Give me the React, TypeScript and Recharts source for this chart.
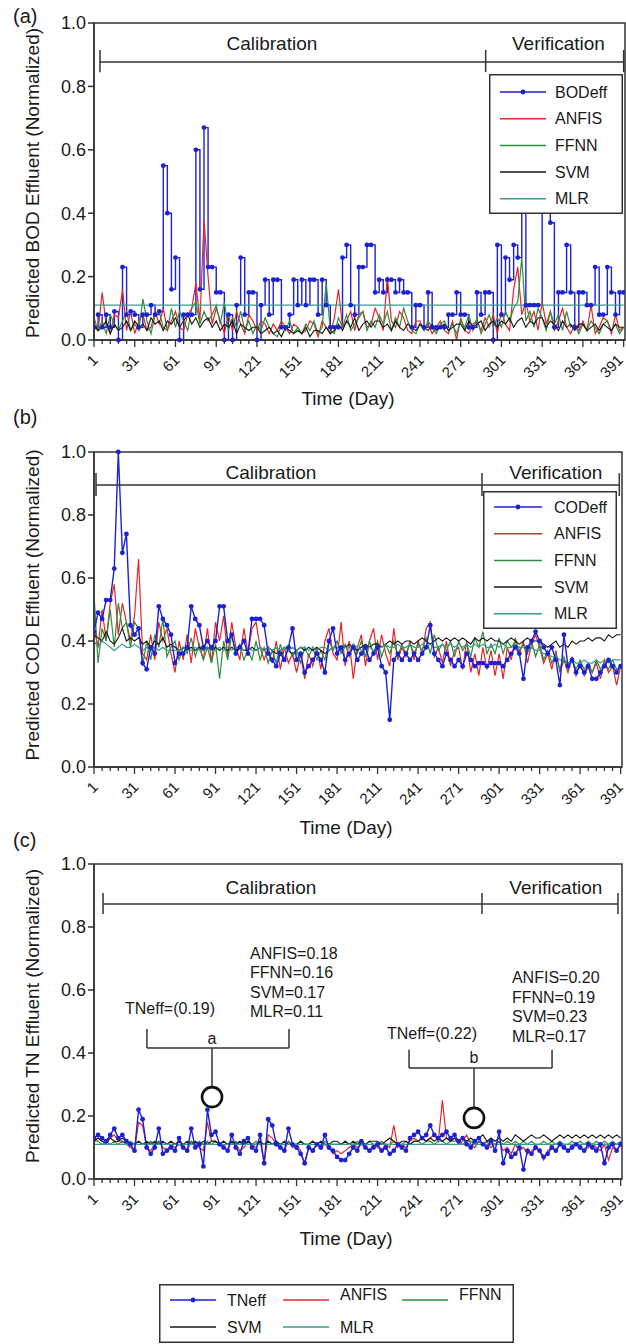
import React from "react";
import { LineChart, Line, XAxis, YAxis, ReferenceArea, ReferenceLine, ReferenceDot, Legend } from "recharts";

const FONT = '"Liberation Sans", Arial, Helvetica, sans-serif';

// one reading every 3 days: day 1, 4, 7 ... 391 (values are x100)
const days = Array.from({ length: 131 }, (_, i) => 1 + 3 * i);
const majorTicks = [1, 31, 61, 91, 121, 151, 181, 211, 241, 271, 301, 331, 361, 391];
const minorTicks = Array.from({ length: 66 }, (_, i) => 1 + 6 * i);
const yTicks = [0, 0.2, 0.4, 0.6, 0.8, 1.0];

// (a) BOD
const bodEff = [
  4, 8, 4, 8, 4, 9, 0, 23, 8, 9,
  8, 4, 8, 8, 11, 8, 9, 55, 40, 16,
  26, 0, 8, 8, 8, 60, 16, 67, 23, 23,
  15, 15, 0, 8, 0, 11, 26, 8, 15, 15,
  0, 11, 19, 8, 19, 19, 4, 4, 8, 19,
  11, 19, 11, 19, 19, 8, 19, 11, 4, 4,
  4, 26, 30, 11, 8, 23, 23, 30, 30, 15,
  19, 15, 19, 19, 15, 19, 15, 15, 4, 11,
  11, 4, 15, 4, 4, 4, 4, 8, 8, 15,
  8, 8, 4, 4, 15, 8, 15, 15, 0, 30,
  8, 26, 19, 30, 26, 45, 11, 11, 11, 11,
  45, 45, 37, 4, 15, 15, 30, 15, 4, 15,
  15, 11, 11, 23, 8, 8, 23, 15, 8, 15,
  15,
];
const anfisA = [
  4, 3, 15, 5, 2, 8, 7, 16, 3, 9,
  2, 6, 8, 3, 4, 9, 5, 10, 3, 6,
  9, 4, 3, 8, 10, 18, 6, 38, 20, 5,
  10, 6, 2, 8, 3, 9, 5, 2, 8, 6,
  3, 6, 5, 2, 5, 3, 6, 4, 2, 5,
  4, 2, 3, 6, 5, 1, 6, 4, 2, 7,
  16, 4, 6, 9, 3, 8, 9, 4, 5, 10,
  7, 3, 20, 6, 4, 9, 7, 3, 2, 6,
  6, 3, 5, 2, 4, 6, 3, 2, 6, 0,
  7, 3, 2, 5, 6, 3, 7, 4, 8, 2,
  9, 5, 3, 16, 23, 8, 12, 6, 9, 3,
  12, 5, 9, 3, 6, 10, 4, 2, 5, 3,
  6, 3, 11, 2, 4, 7, 6, 2, 8, 3,
  4,
];
const ffnnA = [
  7, 3, 6, 2, 8, 5, 3, 6, 9, 3,
  5, 3, 13, 6, 2, 8, 9, 4, 3, 10,
  4, 9, 6, 3, 10, 12, 5, 9, 6, 8,
  11, 5, 12, 3, 7, 4, 9, 3, 6, 2,
  5, 3, 7, 4, 2, 1, 5, 3, 6, 2,
  4, 2, 5, 3, 6, 2, 4, 18, 3, 2,
  7, 4, 8, 3, 5, 7, 9, 3, 6, 4,
  8, 5, 9, 3, 7, 4, 10, 6, 3, 2,
  5, 3, 6, 4, 2, 5, 6, 3, 5, 2,
  6, 4, 8, 3, 7, 2, 5, 8, 4, 7,
  4, 9, 6, 10, 12, 26, 6, 9, 4, 10,
  7, 3, 9, 5, 8, 3, 9, 4, 5, 2,
  5, 3, 6, 4, 2, 5, 6, 3, 5, 2,
  4,
];
const svmA = [
  5, 3, 4, 6, 2, 5, 3, 4, 6, 3,
  6, 4, 5, 3, 7, 5, 6, 3, 6, 5,
  7, 4, 6, 8, 5, 7, 4, 6, 7, 4,
  6, 3, 5, 4, 6, 2, 5, 4, 3, 4,
  4, 2, 3, 4, 2, 3, 1, 4, 3, 2,
  3, 2, 4, 1, 3, 3, 2, 4, 2, 3,
  5, 3, 6, 4, 7, 3, 5, 6, 4, 6,
  6, 4, 5, 3, 6, 4, 3, 5, 4, 3,
  5, 4, 3, 5, 3, 4, 5, 3, 4, 5,
  5, 3, 6, 4, 5, 6, 3, 5, 6, 4,
  6, 5, 7, 4, 6, 7, 4, 6, 5, 7,
  7, 4, 6, 5, 3, 6, 4, 5, 3, 5,
  5, 3, 4, 5, 3, 5, 4, 3, 5, 4,
  4,
];
const mlrA = [
  11, 11, 11, 11, 11, 11, 11, 11, 11, 11,
  11, 11, 11, 11, 11, 11, 11, 11, 11, 11,
  11, 11, 11, 11, 11, 11, 11, 11, 11, 11,
  11, 11, 11, 11, 11, 11, 11, 11, 11, 11,
  11, 11, 11, 11, 11, 11, 11, 11, 11, 11,
  11, 11, 11, 11, 11, 11, 11, 11, 11, 11,
  11, 11, 11, 11, 11, 11, 11, 11, 11, 11,
  11, 11, 11, 11, 11, 11, 11, 11, 11, 11,
  11, 11, 11, 11, 11, 11, 11, 11, 11, 11,
  11, 11, 11, 11, 11, 11, 11, 11, 11, 11,
  11, 11, 11, 11, 11, 11, 11, 11, 11, 11,
  11, 11, 11, 11, 11, 11, 11, 11, 11, 11,
  11, 11, 11, 11, 11, 11, 11, 11, 11, 11,
  11,
];

// (b) COD
const codEff = [
  43, 49, 47, 53, 53, 63, 100, 68, 74, 45,
  42, 44, 33, 31, 38, 36, 51, 47, 45, 42,
  33, 36, 36, 38, 51, 47, 45, 38, 40, 38,
  40, 51, 51, 40, 42, 36, 38, 40, 36, 47,
  47, 47, 45, 36, 34, 32, 36, 34, 38, 44,
  34, 36, 30, 32, 34, 36, 34, 30, 40, 44,
  36, 38, 34, 36, 38, 34, 36, 38, 34, 36,
  38, 32, 30, 15, 34, 36, 34, 36, 34, 36,
  34, 36, 38, 45, 36, 34, 32, 36, 34, 32,
  34, 32, 36, 34, 32, 33, 33, 32, 33, 33,
  33, 32, 34, 36, 38, 36, 28, 38, 40, 43,
  40, 38, 36, 38, 34, 26, 42, 32, 34, 30,
  32, 30, 32, 28, 28, 30, 32, 34, 32, 30,
  32,
];
const anfisB = [
  44, 38, 50, 40, 52, 58, 42, 52, 46, 40,
  48, 66, 36, 34, 42, 34, 46, 40, 44, 36,
  30, 40, 34, 42, 33, 44, 38, 34, 44, 33,
  46, 40, 48, 35, 46, 38, 34, 44, 36, 44,
  46, 38, 34, 38, 33, 40, 31, 38, 33, 36,
  30, 36, 28, 36, 32, 38, 31, 40, 44, 36,
  34, 46, 32, 40, 28, 38, 42, 32, 40, 44,
  34, 42, 36, 32, 44, 34, 38, 35, 40, 34,
  40, 36, 44, 46, 35, 38, 33, 40, 32, 37,
  38, 31, 40, 30, 36, 29, 38, 31, 37, 29,
  36, 28, 38, 34, 41, 36, 40, 33, 39, 42,
  38, 33, 36, 31, 37, 30, 34, 30, 35, 29,
  33, 29, 32, 30, 33, 28, 34, 30, 32, 26,
  32,
];
const ffnnB = [
  55, 33, 44, 40, 50, 38, 52, 44, 46, 38,
  46, 44, 32, 40, 34, 42, 38, 47, 35, 38,
  40, 34, 38, 36, 41, 35, 39, 34, 38, 33,
  39, 28, 40, 34, 42, 36, 39, 34, 37, 34,
  40, 34, 38, 33, 37, 33, 39, 34, 38, 35,
  37, 33, 38, 35, 38, 34, 37, 34, 40, 37,
  40, 36, 39, 35, 39, 36, 40, 35, 40, 36,
  40, 35, 39, 36, 40, 35, 39, 36, 39, 36,
  39, 37, 41, 36, 42, 37, 39, 37, 40, 35,
  40, 37, 39, 35, 41, 38, 43, 36, 39, 36,
  41, 36, 40, 38, 40, 37, 39, 36, 40, 35,
  39, 34, 37, 33, 36, 31, 35, 31, 34, 31,
  34, 31, 33, 30, 34, 31, 33, 31, 34, 31,
  32,
];
const svmB = [
  42, 41, 40, 43, 40, 39, 41, 44, 40, 41,
  40, 41, 39, 40, 38, 40, 39, 41, 38, 39,
  38, 37, 38, 37, 38, 37, 38, 37, 38, 37,
  38, 37, 38, 37, 38, 37, 38, 37, 37, 38,
  37, 38, 37, 38, 37, 36, 37, 38, 37, 36,
  37, 38, 37, 38, 37, 38, 37, 36, 37, 38,
  38, 37, 38, 39, 38, 37, 38, 39, 38, 39,
  39, 38, 39, 40, 39, 40, 39, 40, 40, 39,
  40, 41, 40, 39, 40, 41, 40, 41, 40, 41,
  40, 41, 40, 39, 41, 40, 41, 40, 41, 40,
  40, 39, 40, 41, 40, 39, 40, 41, 40, 40,
  40, 39, 38, 39, 40, 38, 39, 38, 40, 39,
  40, 40, 41, 40, 41, 41, 40, 42, 41, 42,
  42,
];
const mlrB = [
  40, 38, 40, 39, 38, 37, 38, 39, 38, 38,
  39, 38, 37, 38, 37, 38, 37, 38, 37, 37,
  37, 37, 38, 37, 37, 38, 37, 37, 38, 37,
  37, 38, 37, 38, 37, 38, 38, 37, 38, 37,
  37, 38, 37, 38, 37, 38, 37, 38, 37, 38,
  37, 38, 38, 37, 38, 37, 38, 38, 37, 38,
  38, 37, 38, 38, 39, 38, 37, 38, 38, 37,
  38, 38, 39, 38, 38, 39, 38, 38, 39, 38,
  38, 39, 38, 39, 38, 38, 39, 38, 39, 38,
  39, 38, 39, 38, 39, 38, 39, 38, 38, 39,
  38, 39, 38, 38, 39, 38, 38, 37, 38, 37,
  37, 36, 36, 35, 35, 34, 34, 33, 34, 33,
  33, 34, 33, 33, 34, 33, 34, 33, 34, 34,
  34,
];

// (c) TN
const tnEff = [
  13, 14, 13, 12, 14, 16, 13, 14, 12, 11,
  9, 22, 19, 10, 8, 10, 16, 8, 9, 10,
  9, 13, 10, 9, 16, 10, 11, 4, 22, 14,
  15, 11, 10, 9, 14, 10, 8, 12, 13, 10,
  9, 14, 5, 19, 17, 11, 10, 9, 16, 11,
  10, 8, 5, 10, 9, 11, 10, 14, 10, 9,
  7, 6, 6, 8, 10, 9, 12, 10, 9, 10,
  11, 9, 10, 8, 9, 11, 10, 9, 13, 14,
  15, 13, 14, 17, 14, 13, 14, 15, 13, 14,
  12, 13, 11, 10, 12, 13, 11, 10, 12, 9,
  15, 5, 9, 7, 8, 10, 3, 9, 8, 10,
  9, 7, 8, 10, 9, 11, 10, 9, 10, 11,
  10, 9, 11, 10, 9, 11, 5, 10, 11, 9,
  11,
];
const anfisC = [
  12, 13, 12, 11, 13, 14, 12, 12, 11, 10,
  9, 18, 17, 10, 9, 11, 12, 10, 9, 11,
  10, 11, 10, 9, 12, 11, 10, 9, 18, 12,
  12, 11, 10, 9, 12, 11, 9, 10, 12, 11,
  10, 12, 5, 14, 13, 11, 10, 9, 12, 10,
  11, 9, 5, 10, 9, 11, 10, 11, 10, 8,
  9, 8, 9, 10, 11, 10, 11, 10, 9, 11,
  10, 9, 11, 10, 17, 10, 11, 10, 12, 13,
  12, 13, 12, 13, 14, 12, 25, 13, 12, 13,
  11, 12, 14, 11, 10, 12, 11, 12, 10, 11,
  12, 9, 10, 8, 11, 9, 10, 8, 9, 10,
  9, 6, 9, 10, 9, 11, 10, 9, 10, 11,
  10, 9, 10, 11, 10, 9, 11, 6, 10, 9,
  11,
];
const ffnnC = [
  12, 12, 11, 12, 11, 12, 11, 12, 11, 12,
  11, 12, 11, 11, 12, 11, 12, 11, 11, 12,
  11, 12, 11, 11, 12, 11, 12, 11, 12, 11,
  12, 11, 12, 11, 11, 12, 11, 12, 11, 11,
  12, 11, 11, 12, 11, 12, 11, 11, 12, 11,
  11, 12, 11, 11, 12, 11, 11, 12, 11, 11,
  11, 11, 12, 11, 11, 12, 11, 11, 12, 11,
  11, 12, 11, 11, 12, 11, 11, 12, 11, 12,
  12, 11, 12, 12, 11, 12, 12, 11, 12, 12,
  12, 11, 12, 12, 11, 12, 11, 12, 12, 11,
  12, 11, 12, 11, 12, 11, 12, 11, 12, 11,
  11, 12, 11, 12, 11, 12, 11, 11, 12, 11,
  12, 11, 12, 11, 12, 11, 12, 11, 12, 11,
  12,
];
const svmC = [
  12, 13, 12, 12, 13, 12, 12, 13, 12, 11,
  11, 12, 11, 12, 11, 12, 11, 12, 11, 12,
  11, 12, 11, 12, 11, 12, 11, 12, 11, 12,
  12, 11, 12, 11, 12, 11, 12, 11, 12, 11,
  11, 12, 11, 12, 11, 12, 11, 12, 11, 11,
  11, 12, 11, 11, 12, 11, 12, 11, 11, 12,
  12, 11, 12, 11, 12, 11, 12, 11, 12, 12,
  12, 11, 12, 13, 12, 11, 12, 12, 11, 12,
  12, 13, 12, 13, 12, 13, 12, 13, 12, 13,
  12, 13, 12, 13, 12, 13, 14, 12, 13, 12,
  13, 12, 13, 12, 14, 13, 12, 13, 14, 13,
  13, 14, 13, 12, 13, 14, 13, 14, 13, 14,
  13, 14, 13, 14, 13, 14, 13, 14, 13, 14,
  13,
];
const mlrC = [
  11, 11, 11, 11, 11, 11, 11, 11, 11, 11,
  11, 11, 11, 11, 11, 11, 11, 11, 11, 11,
  11, 11, 11, 11, 11, 11, 11, 11, 11, 11,
  11, 11, 11, 11, 11, 11, 11, 11, 11, 11,
  11, 11, 11, 11, 11, 11, 11, 11, 11, 11,
  11, 11, 11, 11, 11, 11, 11, 11, 11, 11,
  11, 11, 11, 11, 11, 11, 11, 11, 11, 11,
  11, 11, 11, 11, 11, 11, 11, 11, 11, 11,
  11, 11, 11, 11, 11, 11, 11, 11, 11, 11,
  11, 11, 11, 11, 11, 11, 11, 11, 11, 11,
  11, 11, 11, 11, 11, 11, 11, 11, 11, 11,
  11, 11, 11, 11, 11, 11, 11, 11, 11, 11,
  11, 11, 11, 11, 11, 11, 11, 11, 11, 11,
  11,
];

const C = { obs: "#1c21d4", anfis: "#e3262b", ffnn: "#2f8d3f", svm: "#161616", mlr: "#3a9c8e", axis: "#333", text: "#1a1a1a" };
const ORDER = ["obs", "anfis", "ffnn", "svm", "mlr"];

const table = (obs: number[], anfis: number[], ffnn: number[], svm: number[], mlr: number[]) =>
  days.map((day, i) => ({ day, obs: obs[i] / 100, anfis: anfis[i] / 100, ffnn: ffnn[i] / 100, svm: svm[i] / 100, mlr: mlr[i] / 100 }));

const dataA = table(bodEff, anfisA, ffnnA, svmA, mlrA);
const dataB = table(codEff, anfisB, ffnnB, svmB, mlrB);
const dataC = table(tnEff, anfisC, ffnnC, svmC, mlrC);

function XTick({ x, y, payload }: any) {
  const major = majorTicks.includes(payload.value);
  const ax = Math.min(x + 5, 624);
  const ay = y + 21;
  return (
    <g>
      <line x1={x} x2={x} y1={y} y2={y + (major ? 7 : 4)} stroke={C.axis} strokeWidth={1.3} />
      {major && (
        <text x={ax} y={ay} textAnchor="end" fontSize={15} fill={C.text} transform={`rotate(-45 ${ax} ${ay})`}>
          {payload.value}
        </text>
      )}
    </g>
  );
}

const sorted = (payload: any[]) => [...(payload || [])].sort((a, b) => ORDER.indexOf(a.dataKey) - ORDER.indexOf(b.dataKey));

const boxLegend = (w: number, h: number, lineX: number, lineW: number, textX: number, firstY: number) => ({ payload }: any) => (
  <svg width={w} height={h} style={{ display: "block", fontFamily: FONT }}>
    <rect x={0.75} y={0.75} width={w - 1.5} height={h - 1.5} fill="#fff" stroke={C.axis} strokeWidth={1.5} />
    {sorted(payload).map((e: any, i: number) => {
      const cy = firstY + i * 26.7;
      return (
        <g key={e.value}>
          <line x1={lineX} x2={lineX + lineW} y1={cy} y2={cy} stroke={e.color} strokeWidth={1.5} />
          {i === 0 && <circle cx={lineX + lineW / 2} cy={cy} r={2.4} fill={e.color} />}
          <text x={textX} y={cy} dominantBaseline="central" fontSize={16} fill={C.text}>{e.value}</text>
        </g>
      );
    })}
  </svg>
);

function BottomLegend({ payload }: any) {
  const cols = [11, 124, 243];
  return (
    <svg width={355} height={59} style={{ display: "block", fontFamily: FONT }}>
      <rect x={0.75} y={0.75} width={353.5} height={57.5} fill="#fff" stroke={C.axis} strokeWidth={1.5} />
      {sorted(payload).map((e: any, i: number) => {
        const lx = cols[i % 3];
        const cy = i < 3 ? 16 : 43;
        const ty = i === 1 || i === 2 ? cy - 6 : cy;
        return (
          <g key={e.value}>
            <line x1={lx} x2={lx + 46} y1={cy} y2={cy} stroke={e.color} strokeWidth={1.5} />
            {i === 0 && <circle cx={lx + 23} cy={cy} r={2.4} fill={e.color} />}
            <text x={lx + 57} y={ty} dominantBaseline="central" fontSize={16} fill={C.text}>{e.value}</text>
          </g>
        );
      })}
    </svg>
  );
}

const note = (key: string, x: number, y: number, value: string, position = "center", size = 16) => (
  <ReferenceDot key={key} x={x} y={y} r={0} fill="none" stroke="none" ifOverflow="visible"
    label={{ value, position, offset: 0, fontSize: size, fill: C.text }} />
);

const seg = (key: string, x1: number, y1: number, x2: number, y2: number, w = 1.5) => (
  <ReferenceLine key={key} segment={[{ x: x1, y: y1 }, { x: x2, y: y2 }]} stroke={C.axis} strokeWidth={w} ifOverflow="visible" />
);

// calibration / verification bar
const periodBar = (p: string, x0: number, xm: number, x1: number, y: number, lo: number, hi: number, ty: number) => [
  seg(p + "h", x0, y, x1, y),
  seg(p + "l", x0, lo, x0, hi),
  seg(p + "m", xm, lo, xm, hi),
  seg(p + "r", x1, lo, x1, hi),
  note(p + "c", 132, ty, "Calibration", "center", 19),
  note(p + "v", 343, ty, "Verification", "center", 19),
];

const tnNotes = [
  note("ta", 57.3, 0.543, "TNeff=(0.19)"),
  note("a1", 116.5, 0.717, "ANFIS=0.18", "right"),
  note("a2", 116.5, 0.657, "FFNN=0.16", "right"),
  note("a3", 116.5, 0.594, "SVM=0.17", "right"),
  note("a4", 116.5, 0.533, "MLR=0.11", "right"),
  seg("ba1", 40.2, 0.476, 40.2, 0.416),
  seg("ba2", 40.2, 0.416, 145.4, 0.416),
  seg("ba3", 145.4, 0.416, 145.4, 0.476),
  seg("ba4", 88.4, 0.416, 88.4, 0.289),
  note("la", 88.4, 0.446, "a"),
  <ReferenceDot key="ca" x={88.4} y={0.26} r={10} fill="none" stroke="#111" strokeWidth={2.6} ifOverflow="visible" />,
  note("tb", 251.3, 0.463, "TNeff=(0.22)"),
  note("b1", 310.5, 0.641, "ANFIS=0.20", "right"),
  note("b2", 310.5, 0.578, "FFNN=0.19", "right"),
  note("b3", 310.5, 0.517, "SVM=0.23", "right"),
  note("b4", 310.5, 0.454, "MLR=0.17", "right"),
  seg("bb1", 234.3, 0.41, 234.3, 0.352),
  seg("bb2", 234.3, 0.352, 340.2, 0.352),
  seg("bb3", 340.2, 0.352, 340.2, 0.41),
  seg("bb4", 282.4, 0.352, 282.4, 0.225),
  note("lb", 282.4, 0.386, "b"),
  <ReferenceDot key="cb" x={282.4} y={0.194} r={10} fill="none" stroke="#111" strokeWidth={2.6} ifOverflow="visible" />,
];

function Panel({ top, height, margin, data, obsName, obsOnTop, obsType, legend, extras }: any) {
  const obs = (
    <Line key="obs" dataKey="obs" name={obsName} type={obsType || "linear"} stroke={C.obs} strokeWidth={1.4}
      dot={{ r: 2.4, fill: C.obs, stroke: C.obs, strokeWidth: 0 }} activeDot={false} isAnimationActive={false} />
  );
  const models = [
    <Line key="anfis" dataKey="anfis" name="ANFIS" type="linear" stroke={C.anfis} strokeWidth={1.2} dot={false} isAnimationActive={false} />,
    <Line key="ffnn" dataKey="ffnn" name="FFNN" type="linear" stroke={C.ffnn} strokeWidth={1.2} dot={false} isAnimationActive={false} />,
    <Line key="svm" dataKey="svm" name="SVM" type="linear" stroke={C.svm} strokeWidth={1.1} dot={false} isAnimationActive={false} />,
    <Line key="mlr" dataKey="mlr" name="MLR" type="linear" stroke={C.mlr} strokeWidth={1.2} dot={false} isAnimationActive={false} />,
  ];
  return (
    <div style={{ position: "absolute", left: 0, top, width: 626, height }}>
      <LineChart width={626} height={height} data={data} margin={margin} style={{ fontFamily: FONT }}>
        <XAxis dataKey="day" type="number" domain={[1, 392]} ticks={minorTicks} interval={0} height={60}
          tickSize={0} tickMargin={0} tick={XTick} tickLine={false} stroke={C.axis} strokeWidth={1.5} allowDataOverflow />
        <YAxis type="number" domain={[0, 1]} ticks={yTicks} interval={0} width={94} tickSize={6} tickMargin={2}
          tickFormatter={(v: number) => v.toFixed(1)} tick={{ fontSize: 18, fill: C.text }} stroke={C.axis} strokeWidth={1.5} />
        <ReferenceArea x1={1} x2={392} y1={0} y2={1} fill="none" stroke={C.axis} strokeWidth={1.5} ifOverflow="visible" />
        {obsOnTop ? null : obs}
        {models}
        {obsOnTop ? obs : null}
        {extras}
        {legend}
      </LineChart>
    </div>
  );
}

export default function App() {
  return (
    <div style={{ position: "absolute", left: 0, top: 0, width: 626, height: 1344, background: "#fff", fontFamily: FONT }}>
      <Panel top={0} height={420} margin={{ top: 23, right: 1, bottom: 20, left: 0 }} data={dataA} obsName="BODeff" obsType="stepAfter"
        extras={periodBar("pa", 5.4, 289.4, 391, 0.877, 0.845, 0.915, 0.937)}
        legend={<Legend layout="vertical" verticalAlign="middle" align="center" wrapperStyle={{ left: 489, top: 74, width: 134, height: 140 }}
          content={boxLegend(134, 140, 11, 46, 66, 18)} />} />
      <Panel top={420} height={420} margin={{ top: 32, right: 4, bottom: 13, left: 0 }} data={dataB} obsName="CODeff" obsOnTop
        extras={periodBar("pb", 2.5, 288.3, 390, 0.895, 0.86, 0.933, 0.937)}
        legend={<Legend layout="vertical" verticalAlign="middle" align="center" wrapperStyle={{ left: 483, top: 71, width: 134, height: 138 }}
          content={boxLegend(134, 138, 11, 48, 71, 16)} />} />
      <Panel top={840} height={504} margin={{ top: 24, right: 4, bottom: 105, left: 0 }} data={dataC} obsName="TNeff" obsOnTop
        extras={[...periodBar("pc", 7.7, 288.3, 389, 0.873, 0.841, 0.908, 0.927), ...tnNotes]}
        legend={<Legend layout="vertical" verticalAlign="middle" align="center" wrapperStyle={{ left: 159, top: 444, width: 355, height: 59 }}
          content={BottomLegend} />} />
      <svg width={626} height={1344} style={{ position: "absolute", left: 0, top: 0, pointerEvents: "none", fontFamily: FONT }}>
        <g fill={C.text}>
          <text x={13} y={23} fontSize={20}>(a)</text>
          <text x={13} y={424} fontSize={20}>(b)</text>
          <text x={13} y={847} fontSize={20}>(c)</text>
          <text transform="translate(32 183) rotate(-90)" textAnchor="middle" dominantBaseline="central" fontSize={19}>Predicted BOD Effluent (Normalized)</text>
          <text transform="translate(32 605) rotate(-90)" textAnchor="middle" dominantBaseline="central" fontSize={19}>Predicted COD Effluent (Normalized)</text>
          <text transform="translate(32 1016) rotate(-90)" textAnchor="middle" dominantBaseline="central" fontSize={19}>Predicted TN Effluent (Normalized)</text>
          <text x={348} y={398} textAnchor="middle" dominantBaseline="central" fontSize={19}>Time (Day)</text>
          <text x={346} y={827} textAnchor="middle" dominantBaseline="central" fontSize={19}>Time (Day)</text>
          <text x={346} y={1238} textAnchor="middle" dominantBaseline="central" fontSize={19}>Time (Day)</text>
        </g>
      </svg>
    </div>
  );
}
